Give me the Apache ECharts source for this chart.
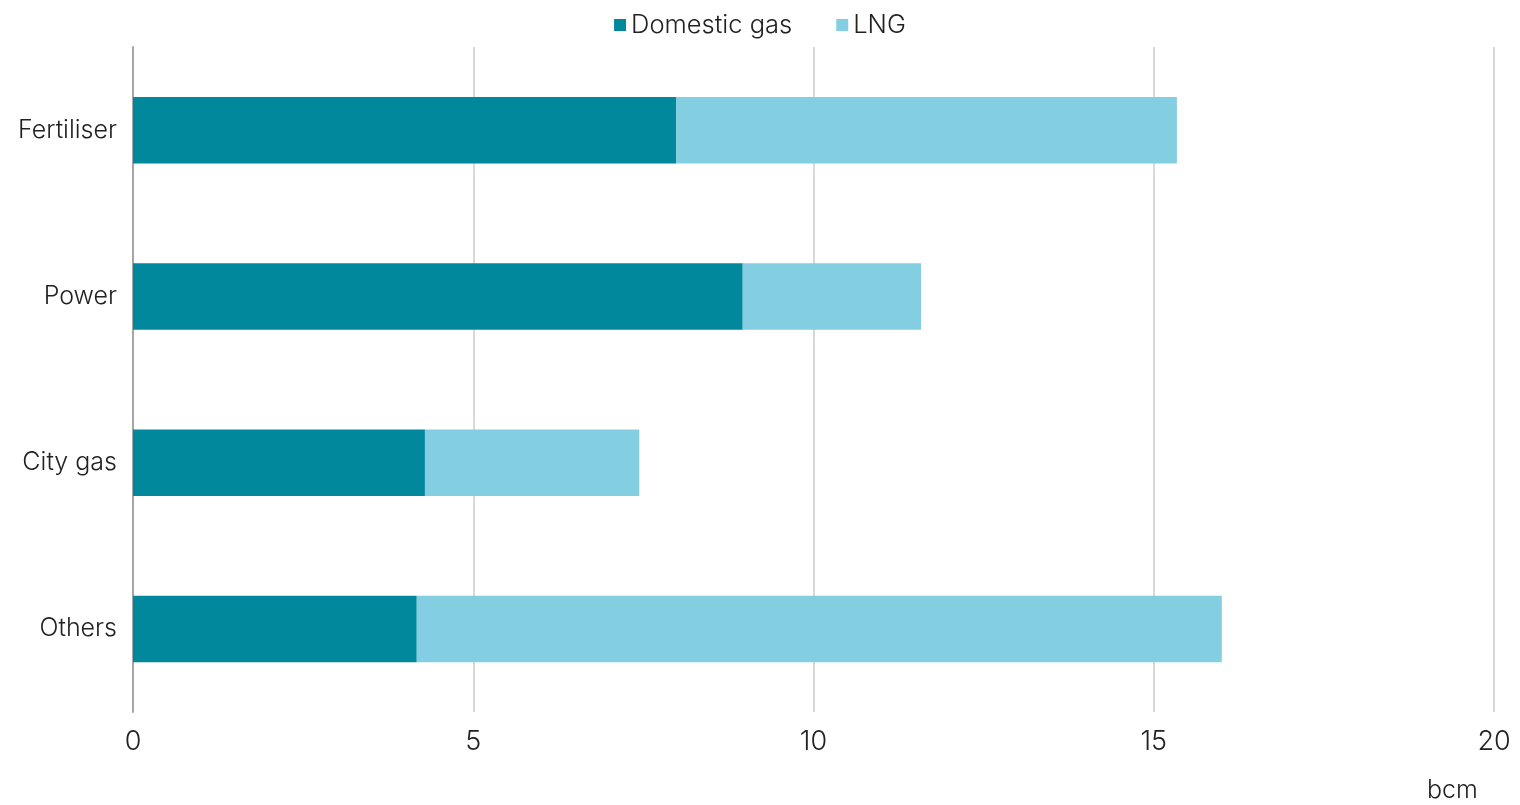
<!DOCTYPE html>
<html>
<head>
	<meta charset="utf-8"/>
	<title>Gas demand by sector</title>
	<script src="https://cdn.jsdelivr.net/npm/echarts@6/dist/echarts.min.js"></script>
</head>
<body style="margin: 0; background: #fff;">

	<div id="chart" style="width: 1520px; height: 805px;"></div>

	<script>
		// top to bottom in the picture
		var categories = ['Fertiliser', 'Power', 'City gas', 'Others'];
		var domesticGas = [7.98, 8.96, 4.29, 4.17];
		var lng = [7.36, 2.62, 3.15, 11.83];
		var xTicks = [0, 5, 10, 15, 20];

		var font = 'Inter, "Noto Sans", sans-serif';
		var myChart = echarts.init(document.getElementById('chart'));

		var option = {
			animation: false,
			textStyle: { fontFamily: font, fontWeight: 300 },
			legend: {
				top: 7,
				left: 'center',
				itemWidth: 12,
				itemHeight: 12,
				itemGap: 44,
				icon: 'rect',
				textStyle: { fontSize: 25.5, color: '#222', fontFamily: font, fontWeight: 300 },
				data: ['Domestic gas', 'LNG']
			},
			grid: {
				left: 133,
				right: 26,
				top: 47,
				bottom: 93,
				containLabel: false
			},
			xAxis: {
				type: 'value',
				min: xTicks[0],
				max: xTicks[xTicks.length - 1],
				interval: 5,
				axisLine: { show: false },
				axisTick: { show: false },
				splitLine: { lineStyle: { color: '#d9d9d9', width: 2 } },
				axisLabel: { fontSize: 27, color: '#222', margin: 16, fontFamily: font, fontWeight: 300 }
			},
			yAxis: {
				type: 'category',
				inverse: true,
				data: categories,
				axisLine: { show: true, lineStyle: { color: '#a6a6a6', width: 2 } },
				axisTick: { show: false },
				axisLabel: { fontSize: 25, color: '#222', margin: 16, fontFamily: font, fontWeight: 300 }
			},
			graphic: [{
				type: 'text',
				left: 1427,
				top: 778,
				style: { text: 'bcm', fontSize: 25, fill: '#222', fontFamily: font, fontWeight: 300 }
			}],
			series: [
				{
					name: 'Domestic gas',
					type: 'bar',
					stack: 'total',
					barWidth: '40%',
					itemStyle: { color: '#02889d' },
					data: domesticGas
				},
				{
					name: 'LNG',
					type: 'bar',
					stack: 'total',
					barWidth: '40%',
					itemStyle: { color: '#83cfe1' },
					data: lng
				}
			]
		};

		myChart.setOption(option);
	</script>
</body>
</html>
